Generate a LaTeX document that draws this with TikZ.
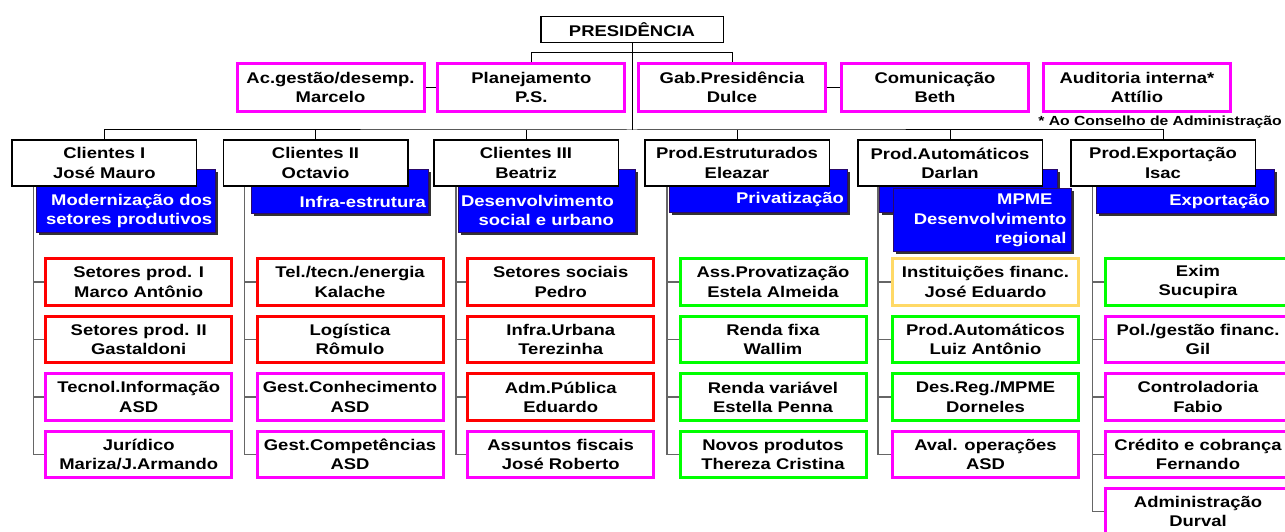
\documentclass[tikz,border=0pt]{standalone}
\usepackage{fontspec}
\setmainfont{Liberation Sans}[FakeStretch=1.19]
\usetikzlibrary{shadows}
\definecolor{kred}{HTML}{FF0000}
\definecolor{kmag}{HTML}{FF00FF}
\definecolor{kgreen}{HTML}{00FF00}
\definecolor{korange}{HTML}{FFD966}
\definecolor{kblue}{HTML}{0000FF}
\definecolor{kblueline}{HTML}{2A0A6A}
\begin{document}
\begin{tikzpicture}[x=1pt,y=-1pt,
  every node/.style={font=\bfseries\fontsize{15.5}{19.2}\selectfont, align=center, inner sep=0pt},
  whitebox/.style={draw=black, line width=1.5pt, fill=white, minimum width=184.5pt, minimum height=46pt},
  presbox/.style={whitebox, minimum width=182.5pt, minimum height=26pt},
  staffbox/.style={draw=kmag, line width=3pt, fill=white, minimum width=187pt, minimum height=47.4pt},
  kid/.style={line width=3pt, fill=white, minimum width=186pt, minimum height=46.4pt},
  rk/.style={kid, draw=kred},
  mk/.style={kid, draw=kmag},
  gk/.style={kid, draw=kgreen},
  ok/.style={kid, draw=korange},
  bluebox/.style={fill=kblue, draw=kblueline, line width=0.8pt, anchor=north west,
    drop shadow={shadow xshift=2.5pt, shadow yshift=-2.5pt, opacity=1, fill=black!80}},
  bluetext/.style={text=white, align=right, anchor=east},
  link/.style={draw=black, line width=1pt},
  klink/.style={draw=black!60, line width=1.3pt},
  note/.style={font=\bfseries\fontsize{13.2}{15}\selectfont, anchor=east}
]
\useasboundingbox (0,0) rectangle (1285,532);

% ---------- coordinates for buses ----------
\coordinate (sbus) at (632,52.7);
\coordinate (l2) at (632,130);
\coordinate (v1) at (33.2,186.7);
\coordinate (v2) at (244.6,186.7);
\coordinate (v3) at (456,186.7);
\coordinate (v4) at (667,186.7);
\coordinate (v5) at (878,186.7);
\coordinate (v6) at (1092.7,186.7);

% ---------- top ----------
\node[presbox] (pres) at (632,29.5) {PRESIDÊNCIA};

\node[staffbox] (ac) at (330.5,87.5) {Ac.gestão/desemp.\\Marcelo};
\node[staffbox] (pl) at (531.3,87.5) {Planejamento\\P.S.};
\node[staffbox] (gb) at (732,87.5) {Gab.Presidência\\Dulce};
\node[staffbox] (cm) at (935,87.5) {Comunicação\\Beth};
\node[staffbox] (au) at (1137,87.5) {Auditoria interna*\\Attílio};
\node[note] (fn) at (1282,122.3) {* Ao Conselho de Administração};

% ---------- level 2 node positions ----------
\path
  (104.3,163) coordinate (p1)
  (315.5,163) coordinate (p2)
  (526,163) coordinate (p3)
  (737,163) coordinate (p4)
  (950,163) coordinate (p5)
  (1163,163) coordinate (p6);

% ---------- children ----------
\node[rk] (k11) at (138.7,282) {Setores prod. I\\Marco Antônio};
\node[rk] (k12) at (138.7,339.7) {Setores prod. II\\Gastaldoni};
\node[mk] (k13) at (138.7,397) {Tecnol.Informação\\ASD};
\node[mk] (k14) at (138.7,454.3) {Jurídico\\Mariza/J.Armando};

\node[rk] (k21) at (350,282) {Tel./tecn./energia\\Kalache};
\node[rk] (k22) at (350,339.7) {Logística\\Rômulo};
\node[mk] (k23) at (350,397) {Gest.Conhecimento\\ASD};
\node[mk] (k24) at (350,454.3) {Gest.Competências\\ASD};

\node[rk] (k31) at (560.7,282) {Setores sociais\\Pedro};
\node[rk] (k32) at (560.7,339.7) {Infra.Urbana\\Terezinha};
\node[rk] (k33) at (560.7,397) {Adm.Pública\\Eduardo};
\node[mk] (k34) at (560.7,454.3) {Assuntos fiscais\\José Roberto};

\node[gk] (k41) at (773,282) {Ass.Provatização\\Estela Almeida};
\node[gk] (k42) at (773,339.7) {Renda fixa\\Wallim};
\node[gk] (k43) at (773,397) {Renda variável\\Estella Penna};
\node[gk] (k44) at (773,454.3) {Novos produtos\\Thereza Cristina};

\node[ok] (k51) at (985.5,282) {Instituições financ.\\José Eduardo};
\node[gk] (k52) at (985.5,339.7) {Prod.Automáticos\\Luiz Antônio};
\node[gk] (k53) at (985.5,397) {Des.Reg./MPME\\Dorneles};
\node[mk] (k54) at (985.5,454.3) {Aval. operações\\ASD};

\node[gk] (k61) at (1198,282) {Exim\\Sucupira};
\node[mk] (k62) at (1198,339.7) {Pol./gestão financ.\\Gil};
\node[mk] (k63) at (1198,397) {Controladoria\\Fabio};
\node[mk] (k64) at (1198,454.3) {Crédito e cobrança\\Fernando};
\node[mk] (k65) at (1198,511.7) {Administração\\Durval};

% ---------- connectors ----------
\draw[link] (pl.north) |- (sbus) -| (gb.north);
\draw[link] (ac.east) -- (pl.west);
\draw[link] (gb.east) -- (cm.west);
\draw[link] (pres.south) -- (l2);
\draw[link] (p1) |- (l2) -| (p6);
\foreach \p in {p2,p3,p4,p5}{\draw[link] (\p) -- (\p |- l2);}

\foreach \c/\n in {1/4,2/4,3/4,4/4,5/4,6/5}{
  \foreach \r in {1,...,\n}{
    \draw[klink] (v\c) |- (k\c\r.west);
  }
}

% ---------- blue boxes ----------
\node[bluebox, minimum width=179pt, minimum height=62.4pt] (b1) at (36,169.3) {};
\node[bluebox, minimum width=177pt, minimum height=44pt] (b2) at (251,169.3) {};
\node[bluebox, minimum width=176.7pt, minimum height=62.4pt] (b3) at (458.3,169.3) {};
\node[bluebox, minimum width=178pt, minimum height=42.4pt] (b4) at (669,169.3) {};
\node[bluebox, minimum width=177.7pt, minimum height=42.4pt] (b5a) at (879,169.3) {};
\node[bluebox, minimum width=177.4pt, minimum height=62.4pt] (b5b) at (893.3,188.3) {};
\node[bluebox, minimum width=178pt, minimum height=44pt] (b6) at (1096,169.3) {};

\node[bluetext] (t1) at (212.3,210.7) {Modernização dos\\setores produtivos};
\node[bluetext] (t2) at (426,202.3) {Infra-estrutura};
\node[bluetext] (t3) at (614,210.7) {Desenvolvimento\\social e urbano};
\node[bluetext] (t4) at (844,199.3) {Privatização};
\node[bluetext] (t5a) at (1052.7,199.3) {MPME};
\node[bluetext] (t5b) at (1066.7,229.7) {Desenvolvimento\\regional};
\node[bluetext] (t6) at (1270,201.3) {Exportação};

% ---------- level 2 boxes (over the blue boxes) ----------
\node[whitebox] (c1) at (p1) {Clientes I\\José Mauro};
\node[whitebox] (c2) at (p2) {Clientes II\\Octavio};
\node[whitebox] (c3) at (p3) {Clientes III\\Beatriz};
\node[whitebox] (c4) at (p4) {Prod.Estruturados\\Eleazar};
\node[whitebox] (c5) at (p5) {Prod.Automáticos\\Darlan};
\node[whitebox] (c6) at (p6) {Prod.Exportação\\Isac};
\end{tikzpicture}
\end{document}
